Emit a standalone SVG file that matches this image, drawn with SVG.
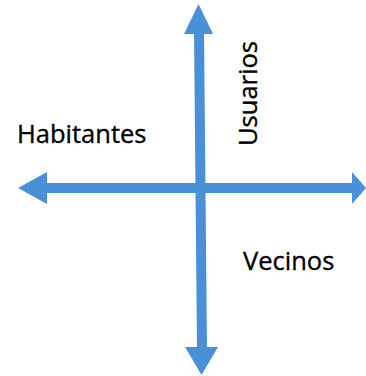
<svg xmlns="http://www.w3.org/2000/svg" width="366" height="376" viewBox="0 0 366 376">
<style>
.ax{fill:#4a90d9;stroke:none}
.sh{stroke:#4a90d9;stroke-width:10;fill:none}
.lb{font-family:"Open Sans","Liberation Sans",sans-serif;font-size:25.5px;fill:#000;stroke:#000;stroke-width:0.35}
</style>
<rect width="366" height="376" fill="#fff"/>
<g id="connectors">
<line class="sh" x1="199" y1="30" x2="202" y2="350"/>
<line class="sh" x1="44" y1="188" x2="355" y2="188"/>
<polygon class="ax" points="198.5,4 184,34 213,34"/>
<polygon class="ax" points="201.5,375 185,347 218,347"/>
<polygon class="ax" points="18,188 47,172 47,204"/>
<polygon class="ax" points="366,188 352,172 352,204"/>
</g>
<g id="habitantes"><text class="lb" x="17" y="143">Habitantes</text></g>
<g id="usuarios"><text class="lb" transform="translate(257,146) rotate(-90)">Usuarios</text></g>
<g id="vecinos"><text class="lb" x="243" y="270">Vecinos</text></g>
</svg>
